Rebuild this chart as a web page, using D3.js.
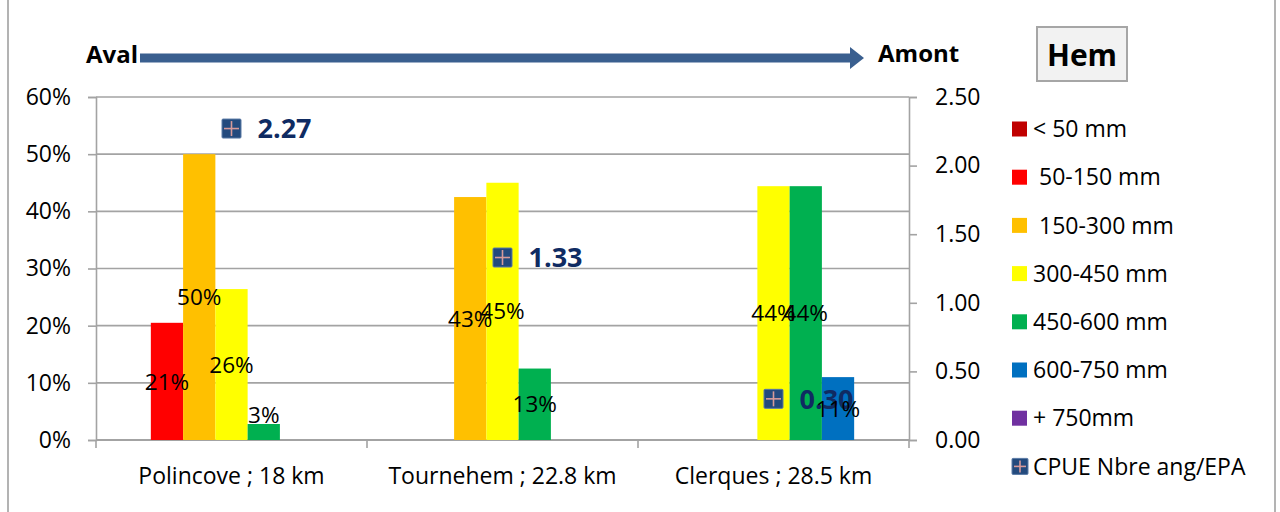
<!DOCTYPE html>
<html>
<head>
<meta charset="utf-8">
<script src="https://cdn.jsdelivr.net/npm/d3@7"></script>
<style>
  html, body { margin: 0; padding: 0; background: #fff; }
  svg { display: block; font-family: "Open Sans", sans-serif; }
</style>
</head>
<body>
<svg id="chart" width="1280" height="512"></svg>
<script>
// ---- data ----
const categories = ["Polincove ; 18 km", "Tournehem ; 22.8 km", "Clerques ; 28.5 km"];
const seriesNames = ["< 50 mm", " 50-150 mm", " 150-300 mm", "300-450 mm", "450-600 mm", "600-750 mm", "+ 750mm"];
const seriesColors = ["#C00000", "#FF0000", "#FFC000", "#FFFF00", "#00B050", "#0070C0", "#7030A0"];
// percentages per series (rows) for each category (columns)
const lt50     = [0, 0, 0];
const s50_150  = [0.205, 0, 0];
const s150_300 = [0.50, 0.425, 0];
const s300_450 = [0.264, 0.45, 0.444];
const s450_600 = [0.028, 0.125, 0.444];
const s600_750 = [0, 0, 0.11];
const gt750    = [0, 0, 0];
const seriesValues = [lt50, s50_150, s150_300, s300_450, s450_600, s600_750, gt750];
const cpue = [2.27, 1.33, 0.30];
const cpueName = "CPUE Nbre ang/EPA";
const leftTicks = [0, 0.1, 0.2, 0.3, 0.4, 0.5, 0.6];
const rightTicks = [0, 0.5, 1.0, 1.5, 2.0, 2.5];

// ---- layout ----
const svg = d3.select("#chart");
const L = 96, R = 909, T = 97, B = 440;
const grid = "#a3a3a3";
const FS = 23;

const x = d3.scaleBand().domain(categories).range([L, R]).padding(0);
const xs = d3.scaleBand().domain(d3.range(seriesNames.length)).range([0, x.bandwidth()]).paddingInner(0).paddingOuter(0.7);
const y = d3.scaleLinear().domain([0, 0.6]).range([B, T]);
const y2 = d3.scaleLinear().domain([0, 2.5]).range([B, T]);

// outer border
svg.append("line").attr("x1", 8).attr("x2", 8).attr("y1", 0).attr("y2", 512).attr("stroke", "#9a9a9a").attr("stroke-width", 1.5);
svg.append("line").attr("x1", 1275).attr("x2", 1275).attr("y1", 0).attr("y2", 512).attr("stroke", "#9a9a9a").attr("stroke-width", 1.5);

// gridlines
svg.append("g").selectAll("line").data(leftTicks.slice(1)).join("line")
  .attr("x1", L).attr("x2", R).attr("y1", d => y(d)).attr("y2", d => y(d))
  .attr("stroke", grid).attr("stroke-width", 1.6);

// left axis
const la = svg.append("g").attr("transform", `translate(${L},0)`)
  .call(d3.axisLeft(y).tickValues(leftTicks).tickFormat(d3.format(".0%")).tickSize(8).tickPadding(17));
la.select(".domain").attr("stroke", grid).attr("stroke-width", 1.6);
la.selectAll(".tick line").attr("stroke", grid).attr("stroke-width", 1.6);
la.selectAll("text").attr("font-size", FS).attr("fill", "#000").attr("font-family", "Open Sans");

// right axis
const ra = svg.append("g").attr("transform", `translate(${R},0)`)
  .call(d3.axisRight(y2).tickValues(rightTicks).tickFormat(d3.format(".2f")).tickSize(8).tickPadding(18));
ra.select(".domain").attr("stroke", grid).attr("stroke-width", 1.6);
ra.selectAll(".tick line").attr("stroke", grid).attr("stroke-width", 1.6);
ra.selectAll("text").attr("font-size", FS).attr("fill", "#000").attr("font-family", "Open Sans");

// bottom axis
const ba = svg.append("g").attr("transform", `translate(0,${B})`)
  .call(d3.axisBottom(x).tickSize(0).tickPadding(0));
ba.select(".domain").remove();
ba.selectAll("text").attr("font-size", FS).attr("fill", "#000").attr("font-family", "Open Sans")
  .attr("dy", 0).attr("y", 44);
svg.append("line").attr("x1", L).attr("x2", R).attr("y1", B).attr("y2", B).attr("stroke", grid).attr("stroke-width", 2);
svg.append("g").selectAll("line").data(d3.range(categories.length + 1)).join("line")
  .attr("x1", i => L + i * x.step()).attr("x2", i => L + i * x.step())
  .attr("y1", B).attr("y2", B + 8).attr("stroke", grid).attr("stroke-width", 1.6);

// bars
const barData = [];
seriesValues.forEach((vals, si) => vals.forEach((v, ci) => barData.push({ si, ci, v })));
svg.append("g").selectAll("rect").data(barData.filter(d => d.v > 0)).join("rect")
  .attr("x", d => x(categories[d.ci]) + xs(d.si))
  .attr("width", xs.bandwidth())
  .attr("y", d => y(d.v))
  .attr("height", d => B - y(d.v))
  .attr("fill", d => seriesColors[d.si]);

// CPUE markers and labels
function marker(g, cx, cy, s) {
  g.append("rect").attr("x", cx - s / 2).attr("y", cy - s / 2).attr("width", s).attr("height", s)
    .attr("fill", "#234a7d").attr("stroke", "#5a7aa6").attr("stroke-width", 1).attr("rx", 1);
  g.append("line").attr("x1", cx - s / 2 + 2).attr("x2", cx + s / 2 - 2).attr("y1", cy).attr("y2", cy)
    .attr("stroke", "#d79a9a").attr("stroke-width", 1.6);
  g.append("line").attr("y1", cy - s / 2 + 2).attr("y2", cy + s / 2 - 2).attr("x1", cx).attr("x2", cx)
    .attr("stroke", "#d79a9a").attr("stroke-width", 1.6);
}
const cg = svg.append("g");
cpue.forEach((v, ci) => {
  const cx = x(categories[ci]) + x.bandwidth() / 2;
  const cy = y2(v);
  marker(cg, cx, cy, 19);
  cg.append("text").attr("x", cx + 26).attr("y", cy).attr("dy", "0.36em")
    .attr("font-size", 27).attr("font-weight", 700).attr("fill", "#0f2b62")
    .text(d3.format(".2f")(v));
});

// bar data labels
svg.append("g").selectAll("text").data(barData.filter(d => d.v > 0)).join("text")
  .attr("x", d => x(categories[d.ci]) + xs(d.si) + xs.bandwidth() / 2)
  .attr("y", d => {
    const h = B - y(d.v);
    return h < 22 ? y(d.v) - 9 : (y(d.v) + B) / 2;
  })
  .attr("dy", "0.36em")
  .attr("text-anchor", "middle")
  .attr("font-size", 22.5).attr("fill", "#000")
  .text(d => Math.round(d.v * 100) + "%");

// Aval -> Amont arrow
svg.append("text").attr("x", 86).attr("y", 63).attr("font-size", 24).attr("font-weight", 700).text("Aval");
svg.append("path")
  .attr("d", "M140,53.5 L850,53.5 L850,47 L864,58 L850,69 L850,62.5 L140,62.5 Z")
  .attr("fill", "#3a5f8f");
svg.append("text").attr("x", 878).attr("y", 62).attr("font-size", 24).attr("font-weight", 700).text("Amont");

// Hem box
svg.append("rect").attr("x", 1037).attr("y", 27).attr("width", 90).attr("height", 54)
  .attr("fill", "#f2f2f2").attr("stroke", "#a6a6a6").attr("stroke-width", 2);
svg.append("text").attr("x", 1082).attr("y", 66).attr("text-anchor", "middle")
  .attr("font-size", 30).attr("font-weight", 700).text("Hem");

// legend
const lg = svg.append("g");
const legY0 = 129, legStep = 48.2;
seriesNames.forEach((name, i) => {
  const ly = legY0 + i * legStep;
  lg.append("rect").attr("x", 1012).attr("y", ly - 7.5).attr("width", 15).attr("height", 15).attr("fill", seriesColors[i]);
  lg.append("text").attr("x", 1033).attr("y", ly).attr("dy", "0.36em").attr("font-size", FS)
    .attr("xml:space", "preserve").style("white-space", "pre").text(name);
});
{
  const ly = legY0 + seriesNames.length * legStep;
  marker(lg, 1020, ly, 16);
  lg.append("text").attr("x", 1033).attr("y", ly).attr("dy", "0.36em").attr("font-size", FS).text(cpueName);
}
</script>
</body>
</html>
